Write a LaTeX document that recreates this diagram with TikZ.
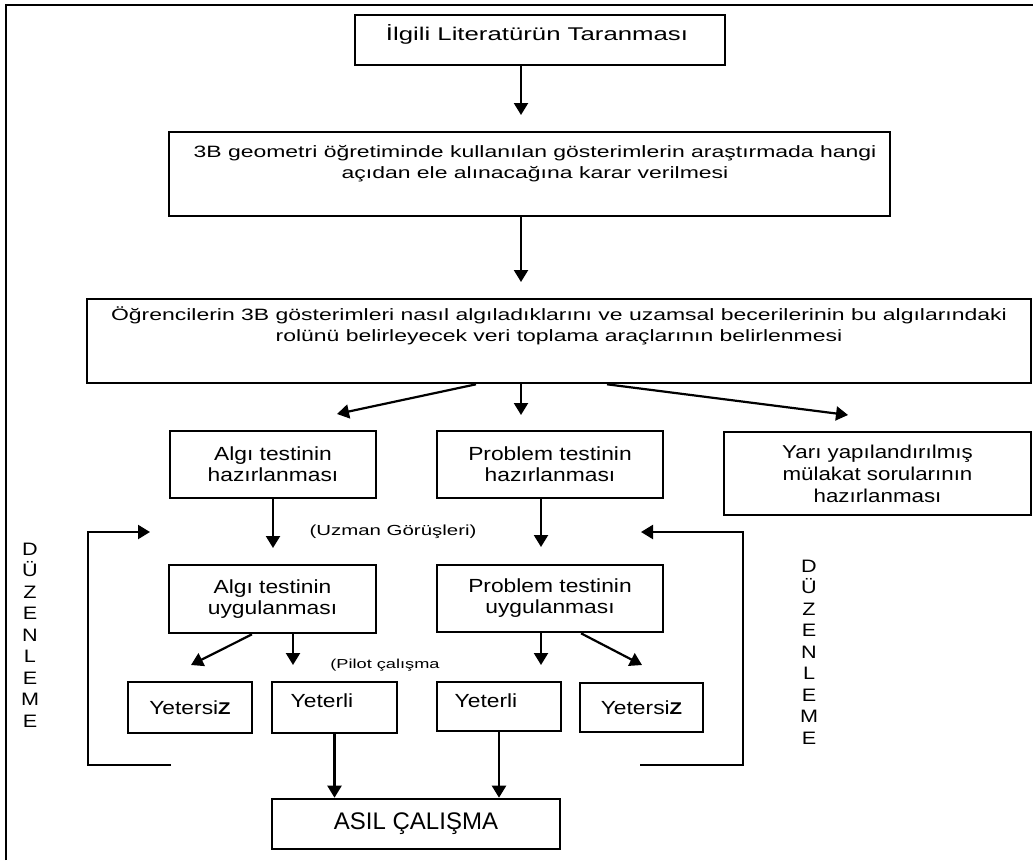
\documentclass[tikz,border=0pt]{standalone}
\usepackage{fontspec}
\setmainfont{Liberation Sans}
\newfontfamily\wideA[FakeStretch=1.4]{Liberation Sans}
\newfontfamily\wideB[FakeStretch=1.2]{Liberation Sans}
\usetikzlibrary{arrows.meta}
\tikzset{
    >={Triangle[width=14pt,length=12pt]},
    box/.style={draw,line width=2.6pt,inner sep=0pt},
    arr/.style={->,line width=2.2pt},
    topA/.style={font=\wideA\fontsize{16.4}{21}\selectfont,align=center,inner sep=0pt},
    lowB/.style={font=\wideB\fontsize{19}{21}\selectfont,align=center},
    vert/.style={font=\wideB\fontsize{18}{21.5}\selectfont,align=center,inner sep=0pt}
}

\begin{document}
\begin{tikzpicture}[x=1pt,y=-1pt]
  \useasboundingbox (0,0) rectangle (1033,860);
  \draw[line width=1.2pt] (6,860) -- (6,5) -- (1033,5);

  % upper chain
  \node[box,minimum width=370pt,minimum height=50pt] (b1) at (540,40) {};
  \node[font=\wideA\fontsize{18.4}{20}\selectfont,inner sep=0pt] (t1) at (537,34) {İlgili Literatürün Taranması};
  \node[box,minimum width=721pt,minimum height=84pt] (b2) at (529.5,174) {};
  \node[topA] (t2) at (535,164) {3B geometri öğretiminde kullanılan gösterimlerin araştırmada hangi\\açıdan ele alınacağına karar verilmesi};
  \node[box,minimum width=944pt,minimum height=84pt] (b3) at (559,341) {};
  \node[topA] (t3) at (559,326) {Öğrencilerin 3B gösterimleri nasıl algıladıklarını ve uzamsal becerilerinin bu algılarındaki\\rolünü belirleyecek veri toplama araçlarının belirlenmesi};

  \coordinate (p1) at (521,115);
  \coordinate (p2) at (521,282);
  \draw[arr] (b1.south -| p1) -- (p1);
  \draw[arr] (b2.south -| p2) -- (p2);

  % three tools
  \node[box,lowB,minimum width=206pt,minimum height=67pt] (bAH) at (273,464.5) {Algı testinin\\hazırlanması};
  \node[box,lowB,minimum width=226pt,minimum height=67pt] (bPH) at (550,464.5) {Problem testinin\\hazırlanması};
  \node[box,lowB,minimum width=307pt,minimum height=83pt,font=\wideB\fontsize{18.6}{22}\selectfont] (bYM) at (877.5,473.5) {Yarı yapılandırılmış\\mülakat sorularının\\hazırlanması};

  \coordinate (p3a) at (337,414);
  \coordinate (p3b) at (521,415);
  \coordinate (p3c) at (848,415);
  \draw[arr] ([xshift=-83pt]b3.south) -- (p3a);
  \draw[arr] (b3.south -| p3b) -- (p3b);
  \draw[arr] ([xshift=48pt]b3.south) -- (p3c);

  % application
  \node[box,lowB,minimum width=207pt,minimum height=68pt] (bAU) at (272.5,599) {Algı testinin\\uygulanması};
  \node[box,lowB,minimum width=226pt,minimum height=67pt] (bPU) at (550,598.5) {Problem testinin\\uygulanması};
  \node[font=\wideA\fontsize{14.6}{16}\selectfont,inner sep=0pt] (uzman) at (393,532) {(Uzman Görüşleri)};

  \coordinate (p4a) at (273,548);
  \coordinate (p4b) at (541,547);
  \draw[arr] (bAH.south -| p4a) -- (p4a);
  \draw[arr] (bPH.south -| p4b) -- (p4b);

  % results
  \node[box,lowB,minimum width=124pt,minimum height=51pt] (bYz1) at (190,707.5) {Yetersi{\bfseries\fontsize{17}{17}\selectfont Z}};
  \node[box,minimum width=125pt,minimum height=51pt] (bYl1) at (334.5,707.5) {};
  \node[lowB,inner sep=0pt] (tYl1) at (322,701) {Yeterli};
  \node[box,minimum width=124pt,minimum height=49pt] (bYl2) at (499,706.5) {};
  \node[lowB,inner sep=0pt] (tYl2) at (486,701) {Yeterli};
  \node[box,lowB,minimum width=123pt,minimum height=49pt] (bYz2) at (641.5,707.5) {Yetersi{\bfseries\fontsize{17}{17}\selectfont Z}};
  \node[font=\wideA\fontsize{13}{15}\selectfont,inner sep=0pt] (pilot) at (385,665) {(Pilot çalışma};

  \coordinate (p5a) at (191,665);
  \coordinate (p5b) at (293,665);
  \coordinate (p5c) at (541,665);
  \coordinate (p5d) at (642,665);
  \draw[arr] ([xshift=-20.5pt]bAU.south) -- (p5a);
  \draw[arr] (bAU.south -| p5b) -- (p5b);
  \draw[arr] (bPU.south -| p5c) -- (p5c);
  \draw[arr] ([xshift=31pt]bPU.south) -- (p5d);

  \node[box,minimum width=288pt,minimum height=50pt,font=\fontsize{24}{26}\selectfont] (bAsil) at (416,824) {ASIL ÇALIŞMA};
  \draw[arr] (bYl1.south) -- (bYl1.south |- bAsil.north);
  \draw[arr] (bYl2.south) -- (bYl2.south |- bAsil.north);

  % feedback loops
  \coordinate (fbL1) at (171,765);
  \coordinate (fbL2) at (150,532);
  \coordinate (fbR1) at (640,765);
  \coordinate (fbR2) at (641,532);
  \draw[arr] (fbL1) -- ++(-83,0) |- (fbL2);
  \draw[arr] (fbR1) -- ++(103,0) |- (fbR2);
  \node[vert] (duzL) at (30,635) {D\\Ü\\Z\\E\\N\\L\\E\\M\\E};
  \node[vert] (duzR) at (809,652) {D\\Ü\\Z\\E\\N\\L\\E\\M\\E};
\end{tikzpicture}
\end{document}
